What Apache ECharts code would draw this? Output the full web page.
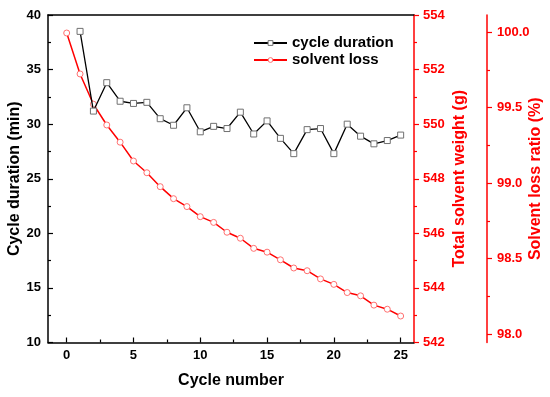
<!DOCTYPE html>
<html>
<head>
<meta charset="utf-8">
<script src="https://cdn.jsdelivr.net/npm/echarts@6/dist/echarts.min.js"></script>
<style>html,body{margin:0;padding:0;background:#fff;}#c{width:550px;height:397px;}</style>
</head>
<body>
<div id="c"></div>
<script>
// ---- data ----
const durationCycles = [1,2,3,4,5,6,7,8,9,10,11,12,13,14,15,16,17,18,19,20,21,22,23,24,25];
const durationValues = [38.5,31.2,33.8,32.1,31.9,32.0,30.5,29.9,31.5,29.3,29.8,29.6,31.1,29.1,30.3,28.7,27.3,29.5,29.6,27.3,30.0,28.9,28.2,28.5,29.0];
const lossCycles = [0,1,2,3,4,5,6,7,8,9,10,11,12,13,14,15,16,17,18,19,20,21,22,23,24,25];
const lossValues = [553.34,551.84,550.73,549.97,549.34,548.65,548.22,547.71,547.27,546.98,546.61,546.40,546.04,545.82,545.45,545.31,545.03,544.73,544.63,544.33,544.13,543.83,543.71,543.37,543.22,542.97];
const initialWeight = 553.37;
const xTicks = [0,5,10,15,20,25];
const xMinorTicks = [2.5,7.5,12.5,17.5,22.5];
const ratioTicks = [98.0,98.5,99.0,99.5,100.0];
const ratioMinorTicks = [98.25,98.75,99.25,99.75];

const FONT = '"Liberation Sans", Arial, sans-serif';
const RED = '#FF0000';
const chart = echarts.init(document.getElementById('c'), null, {renderer:'canvas'});

const wMin = 542, wMax = 554;
const ratioMin = wMin / initialWeight * 100;
const ratioMax = wMax / initialWeight * 100;

const labelStyle = (color) => ({color: color, fontFamily: FONT, fontWeight: 'bold', fontSize: 13});
const nameStyle = (color) => ({color: color, fontFamily: FONT, fontWeight: 'bold', fontSize: 16});

chart.setOption({
  animation: false,
  backgroundColor: '#fff',
  grid: {left: 48, right: 136, top: 15, bottom: 54.5, containLabel: false, outerBoundsMode: 'none'},
  legend: {
    orient: 'vertical', left: 248, top: 30.5,
    itemWidth: 33, itemHeight: 6, itemGap: 2,
    textStyle: {color: '#000', fontFamily: FONT, fontWeight: 'bold', fontSize: 15},
    data: [
      {name: 'cycle duration', itemStyle: {color: '#fff', borderColor: '#707070', borderWidth: 1}},
      {name: 'solvent loss', itemStyle: {color: '#fff', borderColor: '#FF7070', borderWidth: 1}}
    ]
  },
  xAxis: [
    {
      type: 'value', position: 'bottom', min: -1.4, max: 26,
      name: 'Cycle number', nameLocation: 'middle', nameGap: 30, nameMoveOverlap: false, nameTextStyle: nameStyle('#000'),
      axisLine: {show: true, onZero: false, lineStyle: {color: '#000', width: 1.5}},
      axisTick: {show: true, inside: true, length: 5, lineStyle: {color: '#000', width: 1.2}, customValues: xTicks},
      axisLabel: {show: true, margin: 6, customValues: xTicks, ...labelStyle('#000')},
      splitLine: {show: false}
    },
    {
      type: 'value', position: 'bottom', min: -1.4, max: 26,
      axisLine: {show: false, onZero: false},
      axisTick: {show: true, inside: true, length: 3, lineStyle: {color: '#000', width: 1.2}, customValues: xMinorTicks},
      axisLabel: {show: false},
      splitLine: {show: false}
    },
    {
      type: 'value', position: 'top', min: -1.4, max: 26,
      axisLine: {show: true, onZero: false, lineStyle: {color: '#000', width: 1.5}},
      axisTick: {show: false}, axisLabel: {show: false}, splitLine: {show: false}
    }
  ],
  yAxis: [
    {
      type: 'value', position: 'left', min: 10, max: 40, interval: 5,
      name: 'Cycle duration (min)', nameLocation: 'middle', nameRotate: 90, nameGap: 25, nameMoveOverlap: false, nameTextStyle: nameStyle('#000'),
      axisLine: {show: true, onZero: false, lineStyle: {color: '#000', width: 1.5}},
      axisTick: {show: true, inside: true, length: 5, lineStyle: {color: '#000', width: 1.2}},
      minorTick: {show: true, splitNumber: 2, length: 3, lineStyle: {color: '#000', width: 1.2}},
      axisLabel: {margin: 7, ...labelStyle('#000')},
      splitLine: {show: false}
    },
    {
      type: 'value', position: 'right', min: wMin, max: wMax, interval: 2,
      name: 'Total solvent weight (g)', nameLocation: 'middle', nameRotate: 90, nameGap: 38, nameMoveOverlap: false, nameTextStyle: nameStyle(RED),
      axisLine: {show: true, onZero: false, lineStyle: {color: RED, width: 1.5}},
      axisTick: {show: true, inside: false, length: 5, lineStyle: {color: RED, width: 1.2}},
      minorTick: {show: true, splitNumber: 2, length: 3, lineStyle: {color: RED, width: 1.2}},
      axisLabel: {margin: 9, ...labelStyle(RED)},
      splitLine: {show: false}
    },
    {
      type: 'value', position: 'right', offset: 73, min: ratioMin, max: ratioMax,
      name: 'Solvent loss ratio (%)', nameLocation: 'middle', nameRotate: 90, nameGap: 41, nameMoveOverlap: false, nameTextStyle: nameStyle(RED),
      axisLine: {show: true, onZero: false, lineStyle: {color: RED, width: 1.5}},
      axisTick: {show: true, inside: false, length: 5, lineStyle: {color: RED, width: 1.2}, customValues: ratioTicks},
      axisLabel: {margin: 10, customValues: ratioTicks, formatter: (v) => Number(v).toFixed(1), ...labelStyle(RED)},
      splitLine: {show: false}
    },
    {
      type: 'value', position: 'right', offset: 73, min: ratioMin, max: ratioMax,
      axisLine: {show: false, onZero: false},
      axisTick: {show: true, inside: false, length: 3, lineStyle: {color: RED, width: 1.2}, customValues: ratioMinorTicks},
      axisLabel: {show: false},
      splitLine: {show: false}
    }
  ],
  series: [
    {
      name: 'solvent loss', type: 'line', xAxisIndex: 0, yAxisIndex: 1, z: 2,
      data: lossCycles.map((c, i) => [c, lossValues[i]]),
      symbol: 'circle', symbolSize: 6,
      lineStyle: {color: RED, width: 1.5},
      itemStyle: {color: '#fff', borderColor: '#FF7070', borderWidth: 1},
      emphasis: {disabled: true}
    },
    {
      name: 'cycle duration', type: 'line', xAxisIndex: 0, yAxisIndex: 0, z: 3,
      data: durationCycles.map((c, i) => [c, durationValues[i]]),
      symbol: 'rect', symbolSize: 6,
      lineStyle: {color: '#000', width: 1.3},
      itemStyle: {color: '#fff', borderColor: '#707070', borderWidth: 1},
      emphasis: {disabled: true}
    }
  ]
});
</script>
</body>
</html>
